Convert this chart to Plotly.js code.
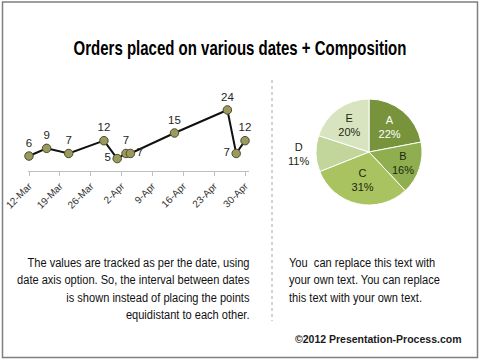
<!DOCTYPE html>
<html>
<head>
<meta charset="utf-8">
<script src="https://cdn.plot.ly/plotly-3.0.1.min.js"></script>
<style>
  html, body { margin: 0; padding: 0; background: #ffffff; }
  #chart { width: 480px; height: 359px; }
</style>
</head>
<body>
<div id="chart"></div>
<script>
// ---- data ----
const orderDates = ['2012-03-12','2012-03-16','2012-03-21','2012-03-29','2012-04-01','2012-04-03','2012-04-04','2012-04-14','2012-04-26','2012-04-28','2012-04-30'];
const orderValues = [6, 9, 7, 12, 5, 7, 7, 15, 24, 7, 12];
const tickDates = ['2012-03-12','2012-03-19','2012-03-26','2012-04-02','2012-04-09','2012-04-16','2012-04-23','2012-04-30'];
const tickLabels = ['12-Mar','19-Mar','26-Mar','2-Apr','9-Apr','16-Apr','23-Apr','30-Apr'];
const pieLabels = ['A','B','C','D','E'];
const pieValues = [22, 16, 31, 11, 20];

const titleText = 'Orders placed on various dates + Composition';
const leftText = 'The values are tracked as per the date, using<br>date axis option. So, the interval between dates<br>is shown instead of placing the points<br>equidistant to each other.';
const rightText = 'You  can replace this text with<br>your own text. You can replace<br>this text with your own text.';
const footerText = '©2012 Presentation-Process.com';

// ---- styling ----
const SANS = '"Liberation Sans", Arial, sans-serif';
const labelPositions = orderValues.map((v, i) => {
  if (i === 4 || i === 9) return 'middle left';
  if (i === 6) return 'middle right';
  return 'top center';
});

const lineTrace = {
  type: 'scatter',
  mode: 'lines+markers+text',
  x: orderDates,
  y: orderValues,
  text: orderValues.map(String),
  textposition: labelPositions,
  textfont: { family: SANS, size: 11.5, color: '#262626' },
  line: { color: '#111111', width: 2 },
  marker: { size: 8.5, color: '#9a995f', line: { color: '#4d4c28', width: 1 } },
  xaxis: 'x', yaxis: 'y',
  cliponaxis: false,
  hoverinfo: 'skip'
};

const pieTrace = {
  type: 'pie',
  labels: pieLabels,
  values: pieValues,
  sort: false,
  direction: 'clockwise',
  rotation: 0,
  texttemplate: '%{label}<br>%{percent:.0%}',
  textposition: ['inside','inside','inside','outside','inside'],
  insidetextorientation: 'horizontal',
  textfont: { family: SANS, size: 11, color: ['#ffffff','#1e2610','#1e2610','#1e2610','#1e2610'] },
  outsidetextfont: { family: SANS, size: 11, color: '#1e2610' },
  marker: { colors: ['#77933c','#8fae4f','#a8c35f','#c2d59b','#d8e4bf'], line: { color: '#ffffff', width: 1 } },
  domain: { x: [316/480, 422/480], y: [1 - 205/359, 1 - 99/359] },
  hoverinfo: 'skip',
  showlegend: false
};

const layout = {
  width: 480, height: 359,
  margin: { l: 0, r: 0, t: 0, b: 0 },
  paper_bgcolor: '#ffffff', plot_bgcolor: 'rgba(0,0,0,0)',
  showlegend: false,
  hovermode: false,
  title: {
    text: titleText,
    x: 0.5, xanchor: 'center',
    y: 1 - 48/359, yanchor: 'middle',
    font: { family: SANS, size: 21, color: '#000000', weight: 'bold' }
  },
  xaxis: {
    type: 'date',
    domain: [28/480, 249/480],
    range: ['2012-03-11 18:30', '2012-04-30 21:40'],
    tickmode: 'array', tickvals: tickDates, ticktext: tickLabels,
    tickangle: -45,
    tickfont: { family: SANS, size: 10, color: '#333333' },
    showline: true, linecolor: '#bfbfbf', linewidth: 1,
    ticks: 'outside', ticklen: 4, tickcolor: '#bfbfbf',
    showgrid: false, zeroline: false, fixedrange: true
  },
  yaxis: {
    domain: [1 - 171.4/359, 1 - 94.6/359],
    range: [0, 30],
    visible: false, showgrid: false, zeroline: false, fixedrange: true
  },
  shapes: [
    { type: 'rect', xref: 'paper', yref: 'paper', x0: 2.5/480, x1: 477.5/480, y0: 1.5/359, y1: 357/359,
      line: { color: '#7f7f7f', width: 1.5 }, fillcolor: 'rgba(0,0,0,0)' },
    { type: 'line', xref: 'paper', yref: 'paper', x0: 272/480, x1: 272/480, y0: 1 - 80/359, y1: 1 - 321/359,
      line: { color: '#a6a6a6', width: 1, dash: 'dot' } }
  ],
  annotations: [
    { text: leftText, xref: 'paper', yref: 'paper', x: 252/480, y: 1 - 288.5/359,
      xanchor: 'right', yanchor: 'middle', align: 'right', showarrow: false,
      font: { family: SANS, size: 13.3, color: '#111111' } },
    { text: rightText, xref: 'paper', yref: 'paper', x: 287/480, y: 1 - 280/359,
      xanchor: 'left', yanchor: 'middle', align: 'left', showarrow: false,
      font: { family: SANS, size: 13.3, color: '#111111' } },
    { text: footerText, xref: 'paper', yref: 'paper', x: 463/480, y: 1 - 339/359,
      xanchor: 'right', yanchor: 'middle', align: 'right', showarrow: false,
      font: { family: SANS, size: 10.5, color: '#1a1a1a', weight: 'bold' } }
  ]
};

// horizontally condense a text element to a target width, keeping its anchor point fixed
function squeeze(el, targetW, anchor) {
  if (!el) return;
  const bb = el.getBBox();
  if (!bb.width) return;
  const sx = targetW / bb.width;
  const ax = anchor === 'end' ? bb.x + bb.width : anchor === 'middle' ? bb.x + bb.width / 2 : bb.x;
  const prev = el.getAttribute('transform') || '';
  el.setAttribute('transform', prev + ' translate(' + ax + ',0) scale(' + sx + ',1) translate(' + (-ax) + ',0)');
}

Plotly.newPlot('chart', [lineTrace, pieTrace], layout, { staticPlot: true, displayModeBar: false }).then(gd => {
  squeeze(gd.querySelector('.gtitle'), 333, 'middle');
  const ann = gd.querySelectorAll('.annotation-text');
  squeeze(ann[0], 233, 'end');
  squeeze(ann[1], 151, 'start');
});
</script>
</body>
</html>
